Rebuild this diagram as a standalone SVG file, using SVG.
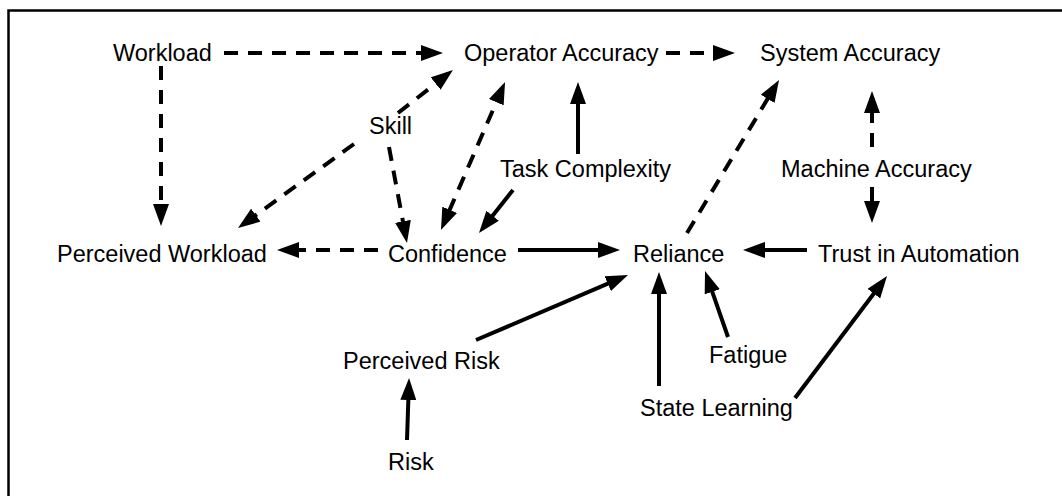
<svg xmlns="http://www.w3.org/2000/svg" width="1062" height="496" viewBox="0 0 1062 496">
  <style>
    .lbl { font-family: "Liberation Sans", Arial, sans-serif; font-size: 23.5px; fill: #000; }
    .edge { stroke: #000; stroke-width: 4; fill: none; marker-end: url(#head); }
    .dash { stroke-dasharray: 14 10; }
    .both { marker-start: url(#head); }
  </style>
  <defs>
    <marker id="head" markerUnits="userSpaceOnUse" markerWidth="22" markerHeight="16" refX="2" refY="8" orient="auto-start-reverse" viewBox="0 0 22 16">
      <path d="M0,0 L22,8 L0,16 z" fill="#000"/>
    </marker>
  </defs>

  <rect width="1062" height="496" fill="#fff"/>
  <!-- outer frame (top and left edges) -->
  <path d="M8.5,500 V10.5 H1070" fill="none" stroke="#000" stroke-width="2.5"/>

  <g id="connectors">
    <line class="edge dash" x1="224" y1="53" x2="423" y2="53"/>
    <line class="edge dash" x1="161" y1="66" x2="161" y2="206"/>
    <line class="edge dash" x1="666" y1="53" x2="715" y2="53"/>
    <line class="edge dash" x1="398" y1="113" x2="437.2" y2="82.3"/>
    <line class="edge dash" x1="354" y1="144" x2="254.2" y2="216.3"/>
    <line class="edge dash" x1="389" y1="147" x2="403.3" y2="223.3"/>
    <line class="edge dash both" x1="448.9" y1="211.6" x2="497.1" y2="100.4"/>
    <line class="edge" x1="513" y1="190" x2="491.4" y2="217.3"/>
    <line class="edge" x1="578" y1="154" x2="578" y2="102"/>
    <line class="edge dash" x1="687" y1="233" x2="768.7" y2="97.1"/>
    <line class="edge dash" x1="872" y1="147" x2="872" y2="111"/>
    <line class="edge dash" x1="872" y1="187" x2="872" y2="203"/>
    <line class="edge dash" x1="378" y1="250" x2="297" y2="250"/>
    <line class="edge" x1="518" y1="250" x2="600" y2="250"/>
    <line class="edge" x1="807" y1="250" x2="763" y2="250"/>
    <line class="edge" x1="476" y1="340" x2="609.6" y2="282.9"/>
    <line class="edge" x1="659" y1="386" x2="659" y2="292"/>
    <line class="edge" x1="728" y1="337" x2="711.6" y2="289.9"/>
    <line class="edge" x1="795" y1="398" x2="875" y2="292"/>
    <line class="edge" x1="407" y1="440" x2="408.4" y2="398"/>
  </g>

  <g id="workload"><text class="lbl" x="113" y="61">Workload</text></g>
  <g id="operator-accuracy"><text class="lbl" x="464" y="61">Operator Accuracy</text></g>
  <g id="system-accuracy"><text class="lbl" x="760" y="61">System Accuracy</text></g>
  <g id="skill"><text class="lbl" x="369" y="134">Skill</text></g>
  <g id="task-complexity"><text class="lbl" x="500" y="177">Task Complexity</text></g>
  <g id="machine-accuracy"><text class="lbl" x="781" y="177">Machine Accuracy</text></g>
  <g id="perceived-workload"><text class="lbl" x="57" y="262">Perceived Workload</text></g>
  <g id="confidence"><text class="lbl" x="388" y="262">Confidence</text></g>
  <g id="reliance"><text class="lbl" x="633" y="262">Reliance</text></g>
  <g id="trust-in-automation"><text class="lbl" x="818" y="262">Trust in Automation</text></g>
  <g id="perceived-risk"><text class="lbl" x="343" y="369">Perceived Risk</text></g>
  <g id="fatigue"><text class="lbl" x="709" y="363">Fatigue</text></g>
  <g id="state-learning"><text class="lbl" x="640" y="416">State Learning</text></g>
  <g id="risk"><text class="lbl" x="388" y="470">Risk</text></g>
</svg>
